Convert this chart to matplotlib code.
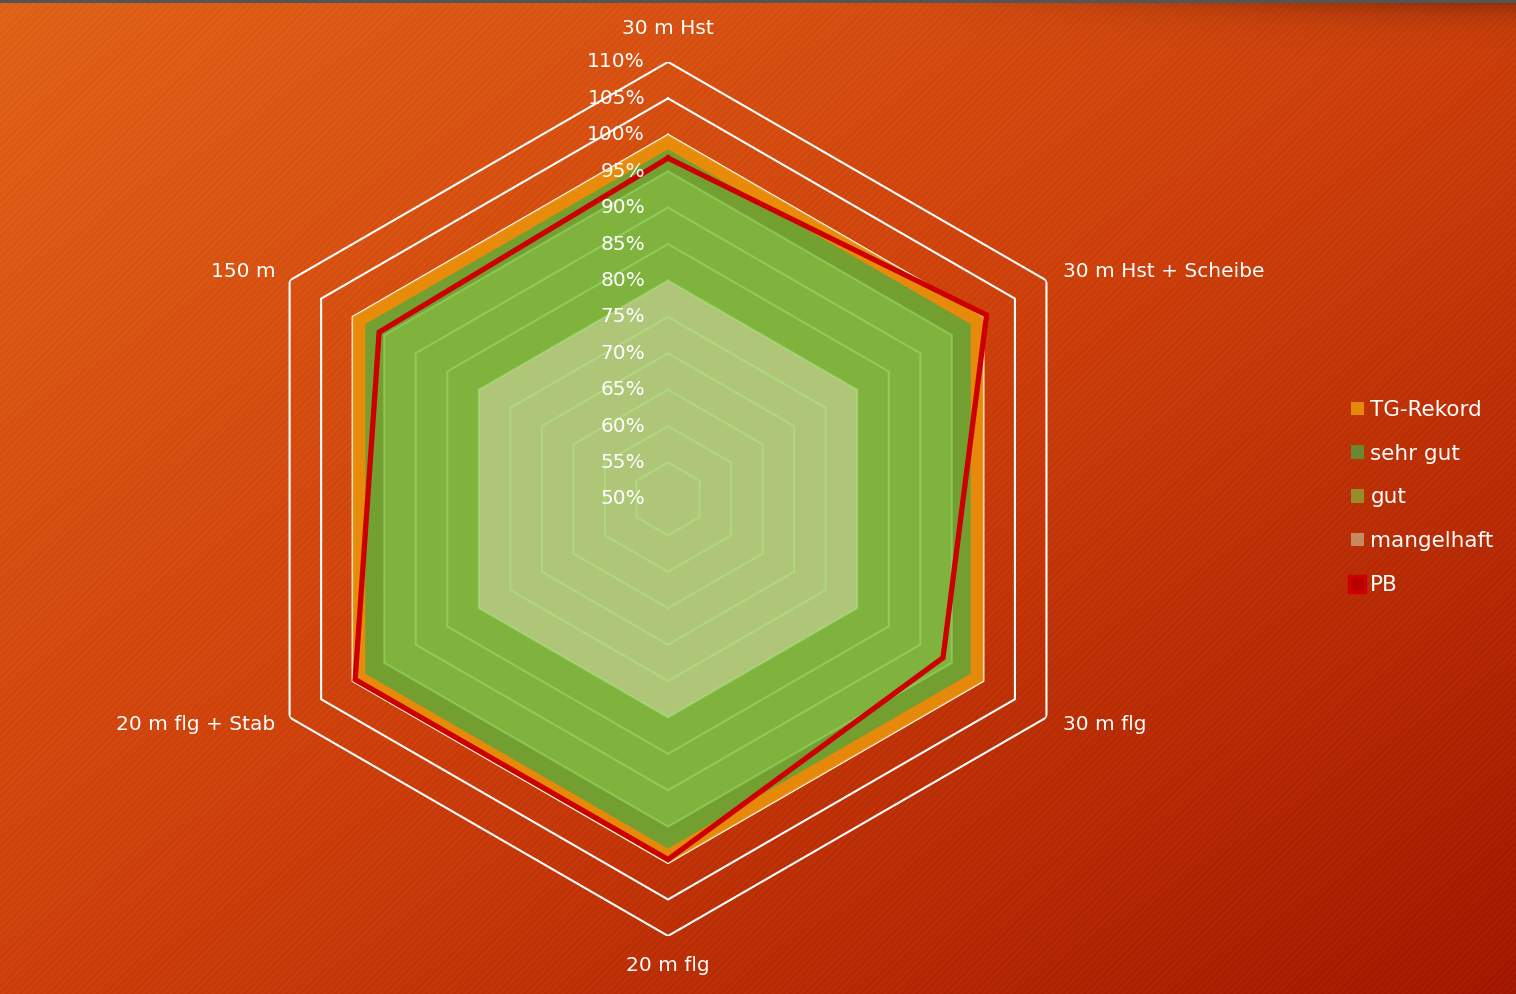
import numpy as np
import matplotlib
matplotlib.use("Agg")
import matplotlib.pyplot as plt
from matplotlib.lines import Line2D

categories = ["30 m Hst", "30 m Hst + Scheibe", "30 m flg", "20 m flg", "20 m flg + Stab", "150 m"]
tg_rekord = [100, 100, 100, 100, 100, 100]
sehr_gut = [98, 98, 98, 98, 98, 98]
gut = [95, 95, 95, 95, 95, 95]
mangelhaft = [80, 80, 80, 80, 80, 80]
pb = [96.8, 100.5, 93.6, 99.5, 99.6, 95.8]
levels = [50, 55, 60, 65, 70, 75, 80, 85, 90, 95, 100, 105, 110]

W, H = 1516, 994
fig = plt.figure(figsize=(W / 100, H / 100), dpi=100)

# hintergrund - diagonaler verlauf mit streifen
yy, xx = np.mgrid[0:H, 0:W]
t = (xx / W + yy / H) / 2
c0 = np.array([224, 98, 24]) / 255
c1 = np.array([205, 64, 12]) / 255
c2 = np.array([163, 24, 0]) / 255
t1 = np.clip(t * 2, 0, 1)[..., None]
t2 = np.clip(t * 2 - 1, 0, 1)[..., None]
bg = np.where(t[..., None] < 0.5, c0 + (c1 - c0) * t1, c1 + (c2 - c1) * t2)
stripes = 0.012 * np.sin((xx + yy) * 2 * np.pi / 7.0)
bg = bg + stripes[..., None]
shadow = np.exp(-yy / 16.0) * np.clip((xx - 900) / 500, 0, 1) * 0.3
bg = bg * (1 - shadow[..., None])
bg[:3, :, :] = 0.33
bg = np.clip(bg, 0, 1)

bg_ax = fig.add_axes([0, 0, 1, 1])
bg_ax.imshow(bg, aspect="auto", extent=(0, 1, 0, 1), zorder=0)
bg_ax.axis("off")

ax = fig.add_axes([0.1524, 0.0584, 0.5765, 0.8793], projection="polar")
ax.patch.set_alpha(0)
ax.set_theta_offset(np.pi / 2)
ax.set_theta_direction(-1)

theta = np.linspace(0, 2 * np.pi, len(categories), endpoint=False)
theta_c = np.append(theta, theta[0])


def closed(vals):
    return np.append(vals, vals[0])


# gitterlinien (unter den flaechen)
for lvl in levels[1:]:
    ax.plot(theta_c, [lvl] * len(theta_c), color="white", lw=1.5, zorder=1)

tg_poly = ax.fill(theta_c, closed(tg_rekord), color="#EB920A", alpha=0.9, lw=0, zorder=2, label="TG-Rekord")[0]
sg_poly = ax.fill(theta_c, closed(sehr_gut), color="#4DA73F", alpha=0.75, lw=0, zorder=2, label="sehr gut")[0]
gut_poly = ax.fill(theta_c, closed(gut), color="#86BF44", alpha=0.65, lw=0, zorder=2, label="gut")[0]
mh_poly = ax.fill(theta_c, closed(mangelhaft), color="#D7D6AB", alpha=0.55, lw=0, zorder=2, label="mangelhaft")[0]

# gitterlinien durch die flaechen sichtbar
for lvl in levels[1:]:
    if lvl < 100:
        ax.plot(theta_c, [lvl] * len(theta_c), color="#B0FF90", alpha=0.3, lw=1.5, zorder=3)

ax.plot(theta_c, closed(pb), color="#CC0000", lw=3.8, zorder=4, solid_joinstyle="miter")

ax.set_ylim(50, 110)
ax.set_xticks([])
ax.set_yticks([])
ax.grid(False)
ax.spines["polar"].set_visible(False)

for lvl in levels:
    ax.annotate("%d%%" % lvl, xy=(0, lvl), xytext=(-23, 0), textcoords="offset pixels",
                ha="right", va="center", color="white", fontsize=14.5, zorder=6)

for ang, cat in zip(theta, categories):
    s, c = np.sin(ang), np.cos(ang)
    if abs(s) < 0.1:
        ha = "center"
        off = (0, 33 if c > 0 else -30)
    else:
        ha = "left" if s > 0 else "right"
        off = (17 if s > 0 else -14, 9 if c > 0 else -7)
    ax.annotate(cat, xy=(ang, 110), xytext=off, textcoords="offset pixels",
                ha=ha, va="center", color="white", fontsize=14.5, annotation_clip=False)

pb_handle = Line2D([], [], color="#CC0000", marker="s", ls="none", markersize=11,
                   markerfacecolor="#B80000", markeredgewidth=2.5, label="PB")

leg = fig.legend(handles=[tg_poly, sg_poly, gut_poly, mh_poly, pb_handle],
                 loc="upper left", bbox_to_anchor=(1351 / W, 1 - 400 / H),
                 frameon=False, fontsize=15.5, handlelength=0.6, handleheight=0.6,
                 handletextpad=0.3, labelspacing=1.1, borderpad=0, borderaxespad=0)
for txt in leg.get_texts():
    txt.set_color("white")

fig.savefig("out.png", dpi=100)
